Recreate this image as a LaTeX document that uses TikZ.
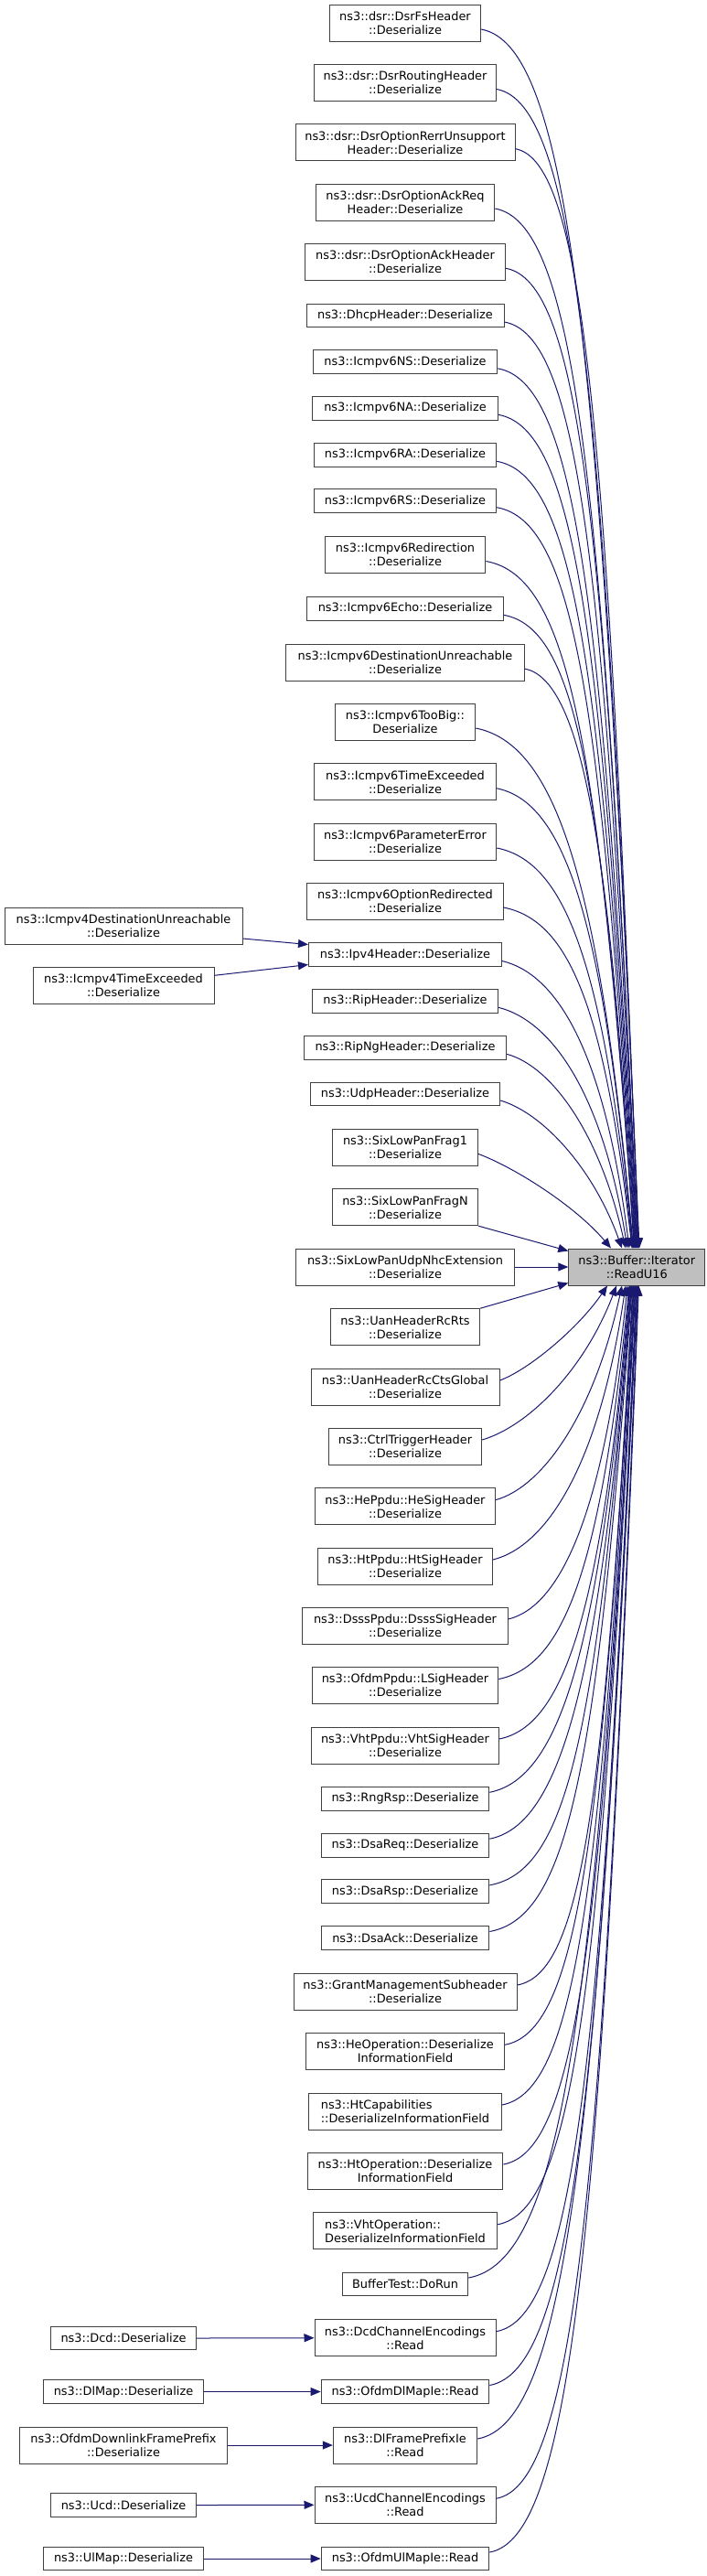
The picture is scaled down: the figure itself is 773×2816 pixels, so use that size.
\documentclass[tikz,border=0pt]{standalone}
\usepackage{fontspec}
\setmainfont{DejaVu Sans}
\usetikzlibrary{arrows.meta,calc}
\definecolor{edgec}{HTML}{191970}
\definecolor{mainfill}{HTML}{BFBFBF}
\newcommand\upE[5]{\draw[conn] let \p1=([yshift=-7pt]#1.east), \p2=([xshift=#2pt]main.north) in (\p1) .. controls ({\x1+#3*(\x2-\x1)},{\y1-0.1*(\x2-\x1)}) and ({\x2-#4*(\x2-\x1)},{\y2+#5*(\y1-\y2)}) .. (\p2);}
\newcommand\loE[5]{\draw[conn] let \p1=([yshift=7pt]#1.east), \p2=([xshift=#2pt]main.south) in (\p1) .. controls ({\x1+#3*(\x2-\x1)},{\y1+0.1*(\x2-\x1)}) and ({\x2-#4*(\x2-\x1)},{\y2-#5*(\y2-\y1)}) .. (\p2);}
\begin{document}
\begin{tikzpicture}[x=1pt,y=-1pt,
  box/.style={draw=black!75,line width=1pt,fill=white,inner sep=0pt,minimum height=40pt,align=center,font=\fontsize{12.9}{15}\selectfont},
  one/.style={box,minimum height=25.7pt},
  mainbox/.style={box,fill=mainfill},
  conn/.style={draw=edgec,line width=1pt,-{Triangle[length=11pt,width=9pt]}}]
\fill[white] (0,0) rectangle (773,2816);
\useasboundingbox (0,0) rectangle (773,2816);
% middle column
\node[box,minimum width=165pt] (n1) at (443,25) {ns3::dsr::DsrFsHeader\\::Deserialize};
\node[box,minimum width=199pt] (n2) at (443,90.5) {ns3::dsr::DsrRoutingHeader\\::Deserialize};
\node[box,minimum width=240pt] (n3) at (443,155.7) {ns3::dsr::DsrOptionRerrUnsupport\\Header::Deserialize};
\node[box,minimum width=195.5pt] (n4) at (443,221) {ns3::dsr::DsrOptionAckReq\\Header::Deserialize};
\node[box,minimum width=219pt] (n5) at (443,286.3) {ns3::dsr::DsrOptionAckHeader\\::Deserialize};
\node[one,minimum width=216pt] (n6) at (443,345) {ns3::DhcpHeader::Deserialize};
\node[one,minimum width=201.5pt] (n7) at (443,395.8) {ns3::Icmpv6NS::Deserialize};
\node[one,minimum width=202.5pt] (n8) at (443,446.3) {ns3::Icmpv6NA::Deserialize};
\node[one,minimum width=199.5pt] (n9) at (443,497.3) {ns3::Icmpv6RA::Deserialize};
\node[one,minimum width=199.5pt] (n10) at (443,547.7) {ns3::Icmpv6RS::Deserialize};
\node[box,minimum width=175.7pt] (n11) at (443,606.5) {ns3::Icmpv6Redirection\\::Deserialize};
\node[one,minimum width=214.4pt] (n12) at (443,665.3) {ns3::Icmpv6Echo::Deserialize};
\node[box,minimum width=260.4pt] (n13) at (443,724) {ns3::Icmpv6DestinationUnreachable\\::Deserialize};
\node[box,minimum width=153.5pt] (n14) at (443,789) {ns3::Icmpv6TooBig::\\Deserialize};
\node[box,minimum width=198.5pt] (n15) at (443,854.7) {ns3::Icmpv6TimeExceeded\\::Deserialize};
\node[box,minimum width=199.5pt] (n16) at (443,920) {ns3::Icmpv6ParameterError\\::Deserialize};
\node[box,minimum width=214.4pt] (n17) at (443,985) {ns3::Icmpv6OptionRedirected\\::Deserialize};
\node[one,minimum width=211pt] (n18) at (443,1043.5) {ns3::Ipv4Header::Deserialize};
\node[one,minimum width=203pt] (n19) at (443,1094.3) {ns3::RipHeader::Deserialize};
\node[one,minimum width=221.3pt] (n20) at (443,1145.3) {ns3::RipNgHeader::Deserialize};
\node[one,minimum width=207.4pt] (n21) at (443,1196) {ns3::UdpHeader::Deserialize};
\node[box,minimum width=158.4pt] (n22) at (443,1254.3) {ns3::SixLowPanFrag1\\::Deserialize};
\node[box,minimum width=159.4pt] (n23) at (443,1319.7) {ns3::SixLowPanFragN\\::Deserialize};
\node[box,minimum width=239pt] (n24) at (443,1385) {ns3::SixLowPanUdpNhcExtension\\::Deserialize};
\node[box,minimum width=163.4pt] (n25) at (443,1450.7) {ns3::UanHeaderRcRts\\::Deserialize};
\node[box,minimum width=206pt] (n26) at (443,1516) {ns3::UanHeaderRcCtsGlobal\\::Deserialize};
\node[box,minimum width=167.3pt] (n27) at (443,1581) {ns3::CtrlTriggerHeader\\::Deserialize};
\node[box,minimum width=196.5pt] (n28) at (443,1646.7) {ns3::HePpdu::HeSigHeader\\::Deserialize};
\node[box,minimum width=191pt] (n29) at (443,1712) {ns3::HtPpdu::HtSigHeader\\::Deserialize};
\node[box,minimum width=224.3pt] (n30) at (443,1777) {ns3::DsssPpdu::DsssSigHeader\\::Deserialize};
\node[box,minimum width=203.5pt] (n31) at (443,1842.5) {ns3::OfdmPpdu::LSigHeader\\::Deserialize};
\node[box,minimum width=204.5pt] (n32) at (443,1908) {ns3::VhtPpdu::VhtSigHeader\\::Deserialize};
\node[one,minimum width=183.7pt] (n33) at (443,1966.3) {ns3::RngRsp::Deserialize};
\node[one,minimum width=183.7pt] (n34) at (443,2017.2) {ns3::DsaReq::Deserialize};
\node[one,minimum width=183.7pt] (n35) at (443,2067.8) {ns3::DsaRsp::Deserialize};
\node[one,minimum width=183.7pt] (n36) at (443,2118.5) {ns3::DsaAck::Deserialize};
\node[box,minimum width=244pt] (n37) at (443,2177) {ns3::GrantManagementSubheader\\::Deserialize};
\node[box,minimum width=216.8pt] (n38) at (443,2242.3) {ns3::HeOperation::Deserialize\\InformationField};
\node[box,minimum width=210.4pt,align=left] (n39) at (443,2308) {ns3::HtCapabilities\\::DeserializeInformationField};
\node[box,minimum width=213.9pt] (n40) at (443,2373) {ns3::HtOperation::Deserialize\\InformationField};
\node[box,minimum width=201.5pt,align=left] (n41) at (443,2438.7) {ns3::VhtOperation::\\DeserializeInformationField};
\node[one,minimum width=137.6pt] (n42) at (443,2497) {BufferTest::DoRun};
\node[box,minimum width=198pt] (n43) at (443,2555.7) {ns3::DcdChannelEncodings\\::Read};
\node[one,minimum width=183.7pt] (n44) at (443,2614.5) {ns3::OfdmDlMapIe::Read};
\node[box,minimum width=157.4pt] (n45) at (443,2673) {ns3::DlFramePrefixIe\\::Read};
\node[box,minimum width=198pt] (n46) at (443,2738.3) {ns3::UcdChannelEncodings\\::Read};
\node[one,minimum width=183.7pt] (n47) at (443,2797) {ns3::OfdmUlMapIe::Read};
% left column
\node[box,minimum width=260pt] (l1) at (135,1012) {ns3::Icmpv4DestinationUnreachable\\::Deserialize};
\node[box,minimum width=198pt] (l2) at (135,1077.3) {ns3::Icmpv4TimeExceeded\\::Deserialize};
\node[one,minimum width=159.4pt] (l3) at (135,2556) {ns3::Dcd::Deserialize};
\node[one,minimum width=175.7pt] (l4) at (135,2614.5) {ns3::DlMap::Deserialize};
\node[box,minimum width=227.2pt] (l5) at (135,2673) {ns3::OfdmDownlinkFramePrefix\\::Deserialize};
\node[one,minimum width=159.4pt] (l6) at (135,2738.5) {ns3::Ucd::Deserialize};
\node[one,minimum width=175.7pt] (l7) at (135,2797) {ns3::UlMap::Deserialize};
% main
\node[mainbox,minimum width=149pt] (main) at (696.3,1385) {ns3::Buffer::Iterator\\::ReadU16};
% upper edges
\upE{n1}{2.7}{0.55}{0.25}{0.75}
\upE{n2}{2.2}{0.55}{0.25}{0.75}
\upE{n3}{1.7}{0.55}{0.25}{0.75}
\upE{n4}{1.2}{0.55}{0.25}{0.75}
\upE{n5}{0.7}{0.55}{0.25}{0.75}
\upE{n6}{0.2}{0.55}{0.25}{0.75}
\upE{n7}{-0.3}{0.55}{0.25}{0.75}
\upE{n8}{-0.8}{0.55}{0.25}{0.75}
\upE{n9}{-1.3}{0.55}{0.25}{0.75}
\upE{n10}{-1.8}{0.55}{0.25}{0.75}
\upE{n11}{-2.3}{0.55}{0.25}{0.75}
\upE{n12}{-2.8}{0.55}{0.25}{0.75}
\upE{n13}{-3.3}{0.5}{0.22}{0.72}
\upE{n14}{-3.8}{0.5}{0.22}{0.72}
\upE{n15}{-4.3}{0.5}{0.22}{0.72}
\upE{n16}{-4.8}{0.5}{0.22}{0.72}
\upE{n17}{-5.3}{0.5}{0.22}{0.72}
\upE{n18}{-8.3}{0.42}{0.2}{0.7}
\upE{n19}{-10.3}{0.4}{0.2}{0.66}
\upE{n20}{-12.3}{0.37}{0.22}{0.6}
\upE{n21}{-16.3}{0.34}{0.24}{0.55}
\upE{n22}{-28.3}{0.27}{0.27}{0.45}
\draw[conn] (n23.south east) -- ([yshift=-3pt]main.north west);
\draw[conn] (n24.east) -- (main.west);
\draw[conn] (n25.north east) -- ([yshift=3pt]main.south west);
% lower edges
\loE{n26}{-32.3}{0.27}{0.27}{0.45}
\loE{n27}{-22.3}{0.34}{0.24}{0.55}
\loE{n28}{-16.3}{0.37}{0.22}{0.6}
\loE{n29}{-12.3}{0.4}{0.2}{0.66}
\loE{n30}{-10.3}{0.42}{0.2}{0.7}
\loE{n31}{-8.3}{0.5}{0.22}{0.72}
\loE{n32}{-7.65}{0.5}{0.22}{0.72}
\loE{n33}{-7.0}{0.5}{0.22}{0.72}
\loE{n34}{-6.35}{0.5}{0.22}{0.72}
\loE{n35}{-5.7}{0.55}{0.25}{0.75}
\loE{n36}{-5.05}{0.55}{0.25}{0.75}
\loE{n37}{-4.4}{0.55}{0.25}{0.75}
\loE{n38}{-3.75}{0.55}{0.25}{0.75}
\loE{n39}{-3.1}{0.55}{0.25}{0.75}
\loE{n40}{-2.45}{0.55}{0.25}{0.75}
\loE{n41}{-1.8}{0.55}{0.25}{0.75}
\loE{n42}{-1.15}{0.55}{0.25}{0.75}
\loE{n43}{-0.5}{0.55}{0.25}{0.75}
\loE{n44}{0.15}{0.55}{0.25}{0.75}
\loE{n45}{0.8}{0.55}{0.25}{0.75}
\loE{n46}{1.45}{0.55}{0.25}{0.75}
\loE{n47}{2.1}{0.55}{0.25}{0.75}
% left edges
\draw[conn] ([yshift=-14pt]l1.east) -- ([yshift=11pt]n18.west);
\draw[conn] ([yshift=11pt]l2.east) -- ([yshift=-11pt]n18.west);
\draw[conn] (l3.east) -- (n43.west);
\draw[conn] (l4.east) -- (n44.west);
\draw[conn] (l5.east) -- (n45.west);
\draw[conn] (l6.east) -- (n46.west);
\draw[conn] (l7.east) -- (n47.west);
\end{tikzpicture}
\end{document}
